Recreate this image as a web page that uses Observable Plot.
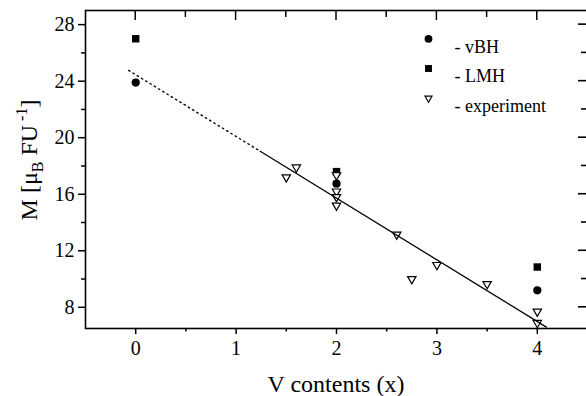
<!DOCTYPE html>
<html><head><meta charset="utf-8">
<script src="https://cdn.jsdelivr.net/npm/d3@7"></script>
<script src="https://cdn.jsdelivr.net/npm/@observablehq/plot@0.6"></script>
<style>
html,body{margin:0;padding:0;background:#fff;overflow:hidden;}
#chart{width:586px;height:396px;overflow:hidden;}
</style></head><body><div id="chart"></div>
<script>
// Data
const vbhX = [0, 2, 4];
const vbhM = [23.9, 16.75, 9.2];
const lmhX = [0, 2, 4];
const lmhM = [27.0, 17.6, 10.85];
const expX = [1.5, 1.6, 2, 2, 2, 2, 2.6, 2.75, 3, 3.5, 4, 4];
const expM = [17.2, 17.9, 17.35, 16.2, 15.8, 15.2, 13.15, 10.0, 11.0, 9.65, 7.7, 6.9];
const fitDottedX = [-0.07, 1.24];
const fitDottedM = [24.76, 19.04];
const fitSolidX = [1.24, 4.09];
const fitSolidM = [19.04, 6.6];
const xTicks = [0, 1, 2, 3, 4];
const xMinor = [0.5, 1.5, 2.5, 3.5];
const yTicks = [8, 12, 16, 20, 24, 28];
const yMinor = [10, 14, 18, 22, 26];
const legendLabels = ["- vBH", "- LMH", "- experiment"];
const legendSymbols = ["circle", "square", "triangle2"];

const font = '"Liberation Serif","Times New Roman",serif';
const pts = (xs, ys) => xs.map((x, i) => ({x, y: ys[i]}));

const legendMarks = legendLabels.flatMap((label, i) => {
  const isTri = legendSymbols[i] === "triangle2";
  return [
    Plot.dot([label], {
      frameAnchor: "top-left", dx: 343, dy: 28.3 + 29.7 * i,
      symbol: legendSymbols[i], r: isTri ? 3.4 : 3.9,
      fill: isTri ? "white" : "black", stroke: isTri ? "black" : "none",
      strokeWidth: 1.1, rotate: isTri ? 180 : 0
    }),
    Plot.text([label], {
      frameAnchor: "top-left", dx: 369, dy: 29.5 + 29.7 * i,
      text: d => d, textAnchor: "start", fontSize: 18, fill: "black"
    })
  ];
});

const plot = Plot.plot({
  width: 587, height: 396,
  marginLeft: 85, marginRight: 0, marginTop: 10, marginBottom: 68,
  style: {fontFamily: font, fontSize: "20px", background: "white", color: "black", maxWidth: "none"},
  x: {domain: [-0.5, 4.5]},
  y: {domain: [6.5, 29]},
  marks: [
    Plot.axisX(xTicks, {anchor: "bottom", tickSize: 6, tickPadding: 6, label: null, strokeWidth: 1.5, fontSize: 20}),
    Plot.axisX(xMinor, {anchor: "bottom", tickSize: 3.5, tickFormat: () => "", label: null, strokeWidth: 1.5}),
    Plot.axisY(yTicks, {anchor: "left", tickSize: 7, tickPadding: 4, label: null, strokeWidth: 1.5, fontSize: 20}),
    Plot.axisY(yMinor, {anchor: "left", tickSize: 4, tickFormat: () => "", label: null, strokeWidth: 1.5}),
    Plot.frame({strokeWidth: 1.6, stroke: "black"}),
    Plot.dot(pts(lmhX, lmhM), {x: "x", y: "y", symbol: "square", r: 4.2, fill: "black"}),
    Plot.dot(pts(expX, expM), {x: "x", y: "y", symbol: "triangle2", rotate: 180, r: 4, fill: "white", stroke: "black", strokeWidth: 1.2}),
    Plot.dot(pts(vbhX, vbhM), {x: "x", y: "y", symbol: "circle", r: 4.1, fill: "black"}),
    Plot.line(pts(fitDottedX, fitDottedM), {x: "x", y: "y", stroke: "black", strokeWidth: 1.4, strokeDasharray: "1.4,3.6"}),
    Plot.line(pts(fitSolidX, fitSolidM), {x: "x", y: "y", stroke: "black", strokeWidth: 1.3}),
    ...legendMarks
  ]
});

const svg = d3.select(plot);
const sx = plot.scale("x"), sy = plot.scale("y");
const frameTop = 10, frameRight = 585;
const tg = svg.append("g").attr("stroke", "black").attr("stroke-width", 1.6).attr("fill", "none");
[[xTicks, 10], [xMinor, 7]].forEach(([arr, len]) => arr.forEach(v => {
  const px = sx.apply(v);
  tg.append("rect").attr("x", px - 0.75).attr("y", frameTop).attr("width", 1.5).attr("height", len)
    .attr("fill", "black").attr("stroke", "none");
}));
[[yTicks, 7], [yMinor, 4]].forEach(([arr, len]) => arr.forEach(v => {
  const py = sy.apply(v);
  tg.append("path").attr("d", `M${frameRight + 2},${py}H${frameRight - len}`);
}));

svg.append("text")
  .attr("x", 336).attr("y", 392)
  .attr("text-anchor", "middle")
  .attr("font-size", 24).attr("font-family", font).attr("fill", "black")
  .text("V contents (x)");

const yt = svg.append("text")
  .attr("transform", "translate(37,160) rotate(-90)")
  .attr("text-anchor", "middle")
  .attr("font-size", 24).attr("font-family", font).attr("fill", "black");
yt.append("tspan").text("M [μ");
yt.append("tspan").attr("font-size", 16).attr("dy", 6).text("B");
yt.append("tspan").attr("dy", -6).text(" FU");
yt.append("tspan").attr("font-size", 16).attr("dy", -10).text(" -1");
yt.append("tspan").attr("dy", 10).text("]");

document.getElementById("chart").appendChild(plot);
</script>
</body></html>
